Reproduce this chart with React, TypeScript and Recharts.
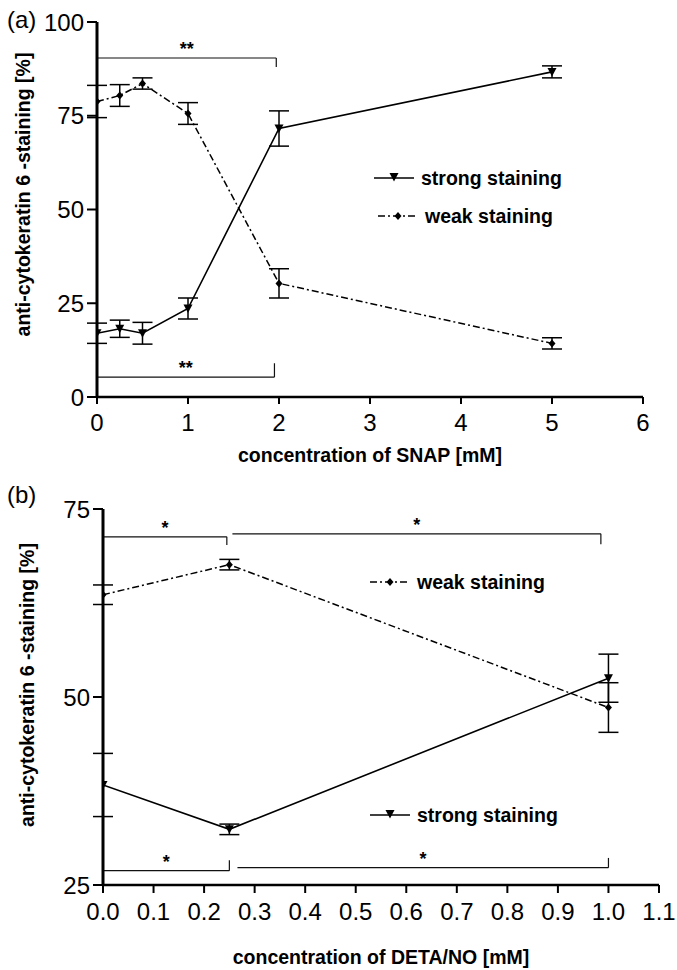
import { LineChart, Line, XAxis, YAxis, ErrorBar, ReferenceLine, Legend } from 'recharts';

// panel (a): SNAP
const SNAP_X = [0, 0.25, 0.5, 1, 2, 5];
const SNAP_STRONG = [17, 18.2, 17, 23.6, 71.6, 86.7];
const SNAP_STRONG_ERR = [2.7, 2.3, 2.9, 2.8, 4.7, 1.6];
const SNAP_WEAK = [78.8, 80.4, 83.6, 75.6, 30.3, 14.3];
const SNAP_WEAK_ERR = [4.3, 2.9, 1.5, 2.9, 3.9, 1.5];
const SNAP_X_TICKS = [0, 1, 2, 3, 4, 5, 6];
const SNAP_Y_TICKS = [0, 25, 50, 75, 100];
const SNAP_BRACKETS = [
  { x1: 0, x2: 1.97, y: 90.4, end: 88, mark: '**' },
  { x1: 0, x2: 1.95, y: 5.3, end: 9, mark: '**' },
];

// panel (b): DETA/NO
const DETA_X = [0, 0.25, 1.0];
const DETA_STRONG = [38.3, 32.4, 52.5];
const DETA_STRONG_ERR = [4.2, 0.7, 3.2];
const DETA_WEAK = [63.6, 67.6, 48.6];
const DETA_WEAK_ERR = [1.3, 0.7, 3.3];
const DETA_X_TICKS = [0, 0.1, 0.2, 0.3, 0.4, 0.5, 0.6, 0.7, 0.8, 0.9, 1.0, 1.1];
const DETA_Y_TICKS = [25, 50, 75];
const DETA_BRACKETS = [
  { x1: 0, x2: 0.245, y: 71.3, end: 70.2, mark: '*' },
  { x1: 0.256, x2: 0.985, y: 71.7, end: 70.3, mark: '*' },
  { x1: 0, x2: 0.25, y: 26.9, end: 28.3, mark: '*' },
  { x1: 0.266, x2: 1.0, y: 27.3, end: 28.6, mark: '*' },
];

const FONT = '"Liberation Sans", Arial, Helvetica, sans-serif';
const WEAK_DASH = '7 3 2 3';
const titleStyle = { fontFamily: FONT, fontWeight: 700, fontSize: 19.5, fill: '#000' };

const toRows = (xs: number[], ys: number[], errs: number[]) =>
  xs.map((x, i) => ({ x, y: ys[i], err: errs[i] }));

const snapStrong = toRows(SNAP_X, SNAP_STRONG, SNAP_STRONG_ERR);
const snapWeak = toRows(SNAP_X, SNAP_WEAK, SNAP_WEAK_ERR);
const detaStrong = toRows(DETA_X, DETA_STRONG, DETA_STRONG_ERR);
const detaWeak = toRows(DETA_X, DETA_WEAK, DETA_WEAK_ERR);

function Triangle({ cx, cy }: any) {
  return <path d={`M${cx - 4.5},${cy - 4} L${cx + 4.5},${cy - 4} L${cx},${cy + 4.5} Z`} fill="#000" />;
}

function Diamond({ cx, cy }: any) {
  return <path d={`M${cx},${cy - 4} L${cx + 3.5},${cy} L${cx},${cy + 4} L${cx - 3.5},${cy} Z`} fill="#000" />;
}

const strongDot = (p: any) =>
  p.cx == null ? <g key={`s${p.index}`} /> : <Triangle key={`s${p.index}`} cx={p.cx} cy={p.cy} />;
const weakDot = (p: any) =>
  p.cx == null ? <g key={`w${p.index}`} /> : <Diamond key={`w${p.index}`} cx={p.cx} cy={p.cy} />;

// tick labels drawn by hand so the big font size sticks
const makeTick = (fmt?: (v: number) => string) => (props: any) => {
  const { x, y, payload, textAnchor, verticalAnchor } = props;
  const v = payload.value;
  return (
    <text
      x={x}
      y={y}
      dy={verticalAnchor === 'start' ? '0.71em' : '0.355em'}
      textAnchor={textAnchor}
      fontSize={24}
      fontFamily={FONT}
      fill="#000"
    >
      {fmt ? fmt(v) : v}
    </text>
  );
};

function XTitle({ viewBox, text, yShift }: any) {
  const { x, y, width } = viewBox;
  return (
    <text x={x + width / 2} y={y + yShift} textAnchor="middle" style={titleStyle}>
      {text}
    </text>
  );
}

function YTitle({ viewBox, text, xPos, yShift }: any) {
  const { x, y, height } = viewBox;
  const cx = x + xPos;
  const cy = y + height / 2 + yShift;
  return (
    <text x={cx} y={cy} textAnchor="middle" transform={`rotate(-90, ${cx}, ${cy})`} style={titleStyle}>
      {text}
    </text>
  );
}

function LegendRow({ kind, label, style }: any) {
  return (
    <div style={{ display: 'flex', alignItems: 'center', height: 24, ...style }}>
      <svg width={40} height={12} style={{ display: 'block' }}>
        <line x1={0} y1={6} x2={40} y2={6} stroke="#000" strokeWidth={1.5}
          strokeDasharray={kind === 'weak' ? WEAK_DASH : undefined} />
        {kind === 'weak' ? <Diamond cx={20} cy={6} /> : <Triangle cx={20} cy={5} />}
      </svg>
      <span style={{ marginLeft: 7, fontFamily: FONT, fontWeight: 700, fontSize: 19.5, color: '#000', whiteSpace: 'nowrap' }}>
        {label}
      </span>
    </div>
  );
}

const axisLine = { stroke: '#000', strokeWidth: 2.5 };
const tickLine = { stroke: '#000', strokeWidth: 2 };

function Brackets(list: typeof SNAP_BRACKETS, prefix: string) {
  return list.flatMap((b, i) => [
    <ReferenceLine
      key={`${prefix}h${i}`}
      segment={[{ x: b.x1, y: b.y }, { x: b.x2, y: b.y }]}
      stroke="#111"
      strokeWidth={1.2}
      label={{ value: b.mark, position: 'top', offset: 3, fontSize: 18, fontWeight: 700, fill: '#000', fontFamily: FONT }}
    />,
    <ReferenceLine
      key={`${prefix}v${i}`}
      segment={[{ x: b.x2, y: b.y }, { x: b.x2, y: b.end }]}
      stroke="#111"
      strokeWidth={1.2}
    />,
  ]);
}

function PanelLetter({ text, top }: any) {
  return (
    <div style={{ position: 'absolute', left: 7, top, fontFamily: FONT, fontSize: 24, lineHeight: '24px', color: '#000' }}>
      {text}
    </div>
  );
}

export default function App() {
  return (
    <div style={{ position: 'absolute', left: 0, top: 0, width: 677, height: 970, background: '#fff', overflow: 'hidden' }}>
      <div style={{ position: 'absolute', left: 0, top: 0 }}>
        <LineChart width={677} height={470} margin={{ top: 22, right: 34, bottom: 33, left: 0 }}>
          <XAxis
            type="number"
            dataKey="x"
            domain={[0, 6]}
            ticks={SNAP_X_TICKS}
            allowDataOverflow
            height={40}
            tick={makeTick()}
            tickSize={7}
            tickMargin={10}
            axisLine={axisLine}
            tickLine={tickLine}
            label={<XTitle text="concentration of SNAP [mM]" yShift={65} />}
          />
          <YAxis
            type="number"
            domain={[0, 100]}
            ticks={SNAP_Y_TICKS}
            allowDataOverflow
            width={97}
            tick={makeTick()}
            tickSize={10}
            tickMargin={3}
            axisLine={{ stroke: '#000', strokeWidth: 3 }}
            tickLine={tickLine}
            label={<YTitle text="anti-cytokeratin 6 -staining [%]" xPos={30} yShift={-15} />}
          />
          {Brackets(SNAP_BRACKETS, 'a')}
          <Line data={snapStrong} dataKey="y" name="strong staining" stroke="#000" strokeWidth={1.6}
            dot={strongDot} activeDot={false} isAnimationActive={false}>
            <ErrorBar dataKey="err" direction="y" width={10} stroke="#000" strokeWidth={1.5} />
          </Line>
          <Line data={snapWeak} dataKey="y" name="weak staining" stroke="#000" strokeWidth={1.5}
            strokeDasharray={WEAK_DASH} dot={weakDot} activeDot={false} isAnimationActive={false}>
            <ErrorBar dataKey="err" direction="y" width={10} stroke="#000" strokeWidth={1.5} />
          </Line>
          <Legend
            layout="horizontal"
            verticalAlign="middle"
            align="center"
            wrapperStyle={{ left: 374, top: 166, width: 260, height: 'auto' }}
            content={() => (
              <div>
                <LegendRow kind="strong" label="strong staining" />
                <LegendRow kind="weak" label="weak staining" style={{ marginTop: 14, marginLeft: 4 }} />
              </div>
            )}
          />
        </LineChart>
      </div>
      <div style={{ position: 'absolute', left: 0, top: 470 }}>
        <LineChart width={677} height={500} margin={{ top: 39, right: 18, bottom: 45, left: 0 }}>
          <XAxis
            type="number"
            dataKey="x"
            domain={[0, 1.1]}
            ticks={DETA_X_TICKS}
            allowDataOverflow
            height={40}
            tick={makeTick((v) => v.toFixed(1))}
            tickSize={8}
            tickMargin={10}
            axisLine={axisLine}
            tickLine={tickLine}
            label={<XTitle text="concentration of DETA/NO [mM]" yShift={79} />}
          />
          <YAxis
            type="number"
            domain={[25, 75]}
            ticks={DETA_Y_TICKS}
            allowDataOverflow
            width={103}
            tick={makeTick()}
            tickSize={10}
            tickMargin={3}
            axisLine={{ stroke: '#000', strokeWidth: 3 }}
            tickLine={tickLine}
            label={<YTitle text="anti-cytokeratin 6 -staining [%]" xPos={34} yShift={-12} />}
          />
          {Brackets(DETA_BRACKETS, 'b')}
          <Line data={detaStrong} dataKey="y" name="strong staining" stroke="#000" strokeWidth={1.6}
            dot={strongDot} activeDot={false} isAnimationActive={false}>
            <ErrorBar dataKey="err" direction="y" width={10} stroke="#000" strokeWidth={1.5} />
          </Line>
          <Line data={detaWeak} dataKey="y" name="weak staining" stroke="#000" strokeWidth={1.5}
            strokeDasharray={WEAK_DASH} dot={weakDot} activeDot={false} isAnimationActive={false}>
            <ErrorBar dataKey="err" direction="y" width={10} stroke="#000" strokeWidth={1.5} />
          </Line>
          <Legend
            layout="horizontal"
            verticalAlign="middle"
            align="center"
            wrapperStyle={{ left: 370, top: 100, width: 260, height: 'auto' }}
            content={() => (
              <div>
                <LegendRow kind="weak" label="weak staining" />
                <LegendRow kind="strong" label="strong staining" style={{ marginTop: 209 }} />
              </div>
            )}
          />
        </LineChart>
      </div>
      <PanelLetter text="(a)" top={8} />
      <PanelLetter text="(b)" top={483} />
    </div>
  );
}
